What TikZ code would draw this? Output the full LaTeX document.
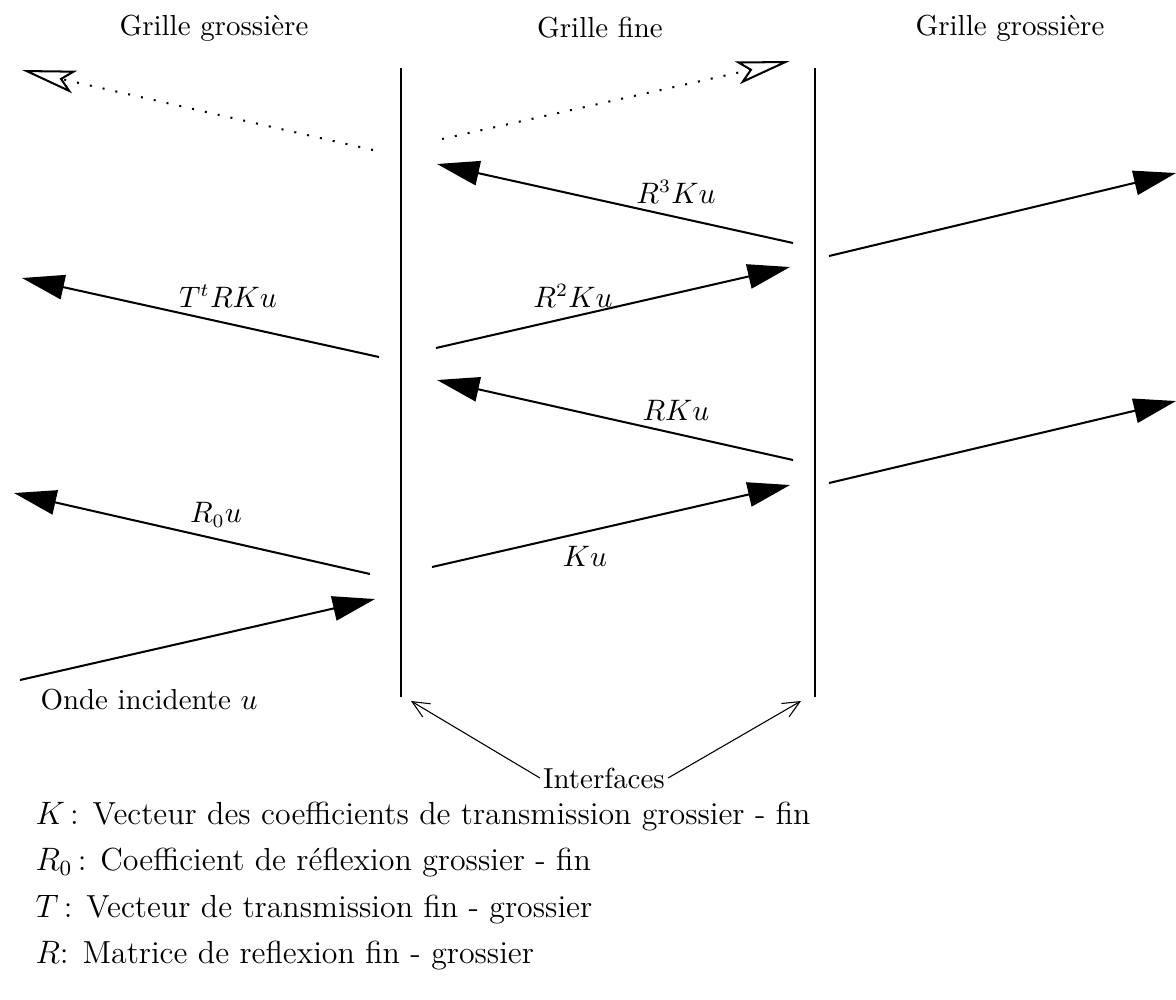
\documentclass[tikz,border=0pt]{standalone}
\usepackage{amsmath}
\usepackage{tikz}
\usetikzlibrary{arrows.meta,positioning}

\begin{document}
\begin{tikzpicture}[x=0.013cm,y=-0.013cm,
    font=\fontsize{10.7pt}{13pt}\selectfont,
    onde/.style={line width=0.75pt,-{Triangle[length=0.55cm,width=0.32cm]}},
    fantome/.style={line width=0.75pt,dash pattern=on 0.75pt off 4.1pt,
      -{Stealth[open,length=0.7cm,width=0.3cm,inset=0.16cm,line width=0.75pt]}},
    repere/.style={line width=0.4pt,-{Straight Barb[length=0.22cm,width=0.2cm]}},
    legende/.style={anchor=west,inner sep=0pt,font=\fontsize{11.8pt}{14pt}\selectfont}]
  \useasboundingbox (0,0) rectangle (1176,999);

  % Titles
  \node (g1) at (214,28) {Grille grossi\`ere};
  \node (gf) at (600,28) {Grille fine};
  \node (g2) at (1010,28) {Grille grossi\`ere};

  % Interfaces
  \coordinate (i1h) at (401,68);
  \coordinate (i1b) at (401,697);
  \coordinate (i2h) at (815,68);
  \coordinate (i2b) at (815,697);
  \draw[line width=0.75pt] (i1h) -- (i1b);
  \draw[line width=0.75pt] (i2h) -- (i2b);

  % Incident wave and first reflexion
  \coordinate (u0) at (20,680);   \coordinate (u1) at (375,599);
  \coordinate (r0) at (370,574);  \coordinate (r1) at (14,493);
  \draw[onde] (u0) -- (u1);
  \draw[onde] (r0) -- (r1);
  \node[anchor=west] (inc) at (31,700) {Onde incidente $u$};
  \node (lr0) at (216,515) {$R_0u$};

  % Fine grid, going right
  \coordinate (k0) at (432,567);  \coordinate (k1) at (790,485);
  \coordinate (q0) at (436,348);  \coordinate (q1) at (790,267);
  \coordinate (d0) at (442,139);  \coordinate (d1) at (790,61);
  \draw[onde] (k0) -- (k1);
  \draw[onde] (q0) -- (q1);
  \draw[fantome] (d0) -- (d1);
  \node (lk) at (585,556) {$Ku$};
  \node (lq) at (573,296) {$R^2Ku$};

  % Fine grid, going left
  \coordinate (p0) at (793,460);  \coordinate (p1) at (437,380);
  \coordinate (s0) at (793,243);  \coordinate (s1) at (437,164);
  \draw[onde] (p0) -- (p1);
  \draw[onde] (s0) -- (s1);
  \node (lp) at (676,410) {$RKu$};
  \node (ls) at (676,192) {$R^3Ku$};

  % Transmitted waves
  \coordinate (t0) at (379,357);  \coordinate (t1) at (22,278);
  \coordinate (c0) at (373,150);  \coordinate (c1) at (22,70);
  \coordinate (e0) at (829,483);  \coordinate (e1) at (1176,401);
  \coordinate (f0) at (829,256);  \coordinate (f1) at (1176,173);
  \draw[onde] (t0) -- (t1);
  \draw[fantome] (c0) -- (c1);
  \draw[onde] (e0) -- (e1);
  \draw[onde] (f0) -- (f1);
  \node (lt) at (228,296) {$T^tRKu$};

  % Interfaces label
  \node[inner sep=1pt] (int) at (604,778) {Interfaces};
  \coordinate (a1) at (411,701);
  \coordinate (a2) at (801,701);
  \draw[repere] (int.west) -- (a1);
  \draw[repere] (int.east) -- (a2);

  % Legend
  \node[legende] (l1) at (35,817) {$K$\,: Vecteur des coefficients de transmission grossier - fin};
  \node[legende] (l2) at (35,863) {$R_0$\,: Coefficient de r\'eflexion grossier - fin};
  \node[legende] (l3) at (35,910) {$T$\,: Vecteur de transmission fin - grossier};
  \node[legende] (l4) at (35,956) {$R$: Matrice de reflexion fin - grossier};
\end{tikzpicture}
\end{document}
